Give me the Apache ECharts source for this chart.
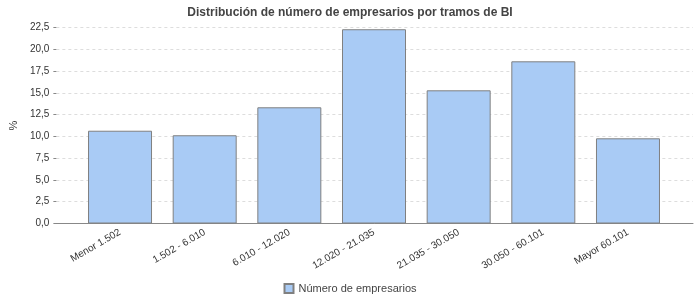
<!DOCTYPE html>
<html><head><meta charset="utf-8">
<script src="https://cdn.jsdelivr.net/npm/echarts@6/dist/echarts.min.js"></script>
<style>html,body{margin:0;padding:0;background:#fff}#c{width:700px;height:300px}</style>
</head><body><div id="c"></div>
<script>
const categories = ["Menor 1.502","1.502 - 6.010","6.010 - 12.020","12.020 - 21.035","21.035 - 30.050","30.050 - 60.101","Mayor 60.101"];
const values = [10.65, 10.13, 13.34, 22.3, 15.29, 18.62, 9.78];
const seriesName = "Número de empresarios";
const titleText = "Distribución de número de empresarios por tramos de BI";
const yMin = 0, yMax = 22.5, yStep = 2.5;

const font = "'Liberation Sans', Arial, sans-serif";
const chart = echarts.init(document.getElementById('c'));
const fmt = v => v.toFixed(1).replace('.', ',');
chart.setOption({
  animation: false,
  title: { text: titleText, left: 'center', top: 2,
    textStyle: { fontFamily: font, fontSize: 12, fontWeight: 'bold', color: '#444' } },
  legend: { bottom: 1, left: 'center', itemWidth: 9, itemHeight: 9, itemGap: 4,
    icon: 'rect',
    textStyle: { fontFamily: font, fontSize: 11, color: '#444' },
    data: [seriesName] },
  grid: [
    { left: 56, right: 7, top: 27.5, bottom: 76.5 },
    { left: 77.7, right: 29.7, top: 27.5, bottom: 76.5 }
  ],
  xAxis: [
    { gridIndex: 0, type: 'value', min: 0, max: 1,
      axisLine: { show: true, lineStyle: { color: '#888' } },
      axisTick: { show: false }, axisLabel: { show: false }, splitLine: { show: false } },
    { gridIndex: 1, type: 'category', data: categories,
      axisLine: { show: false }, axisTick: { show: false },
      axisLabel: { rotate: 30, margin: 8, interval: 0, fontFamily: font, fontSize: 10,
        color: '#333' } }
  ],
  yAxis: [
    { gridIndex: 0, type: 'value', min: yMin, max: yMax, interval: yStep,
      name: '%', nameLocation: 'middle', nameRotate: 90, nameGap: 35,
      nameTextStyle: { fontFamily: font, fontSize: 11, color: '#333' },
      axisLine: { show: false },
      axisTick: { show: true, length: 3, lineStyle: { color: '#888' } },
      axisLabel: { formatter: fmt, margin: 7, fontFamily: font, fontSize: 10, color: '#333' },
      splitLine: { show: true, lineStyle: { color: '#ddd', type: [3, 3] } } },
    { gridIndex: 1, type: 'value', min: yMin, max: yMax, show: false,
      splitLine: { show: false } }
  ],
  series: [{
    name: seriesName, type: 'bar', xAxisIndex: 1, yAxisIndex: 1,
    data: values, barWidth: 64,
    itemStyle: { color: '#A9CBF5', borderColor: '#808080', borderWidth: 1 }
  }]
});
</script></body></html>
